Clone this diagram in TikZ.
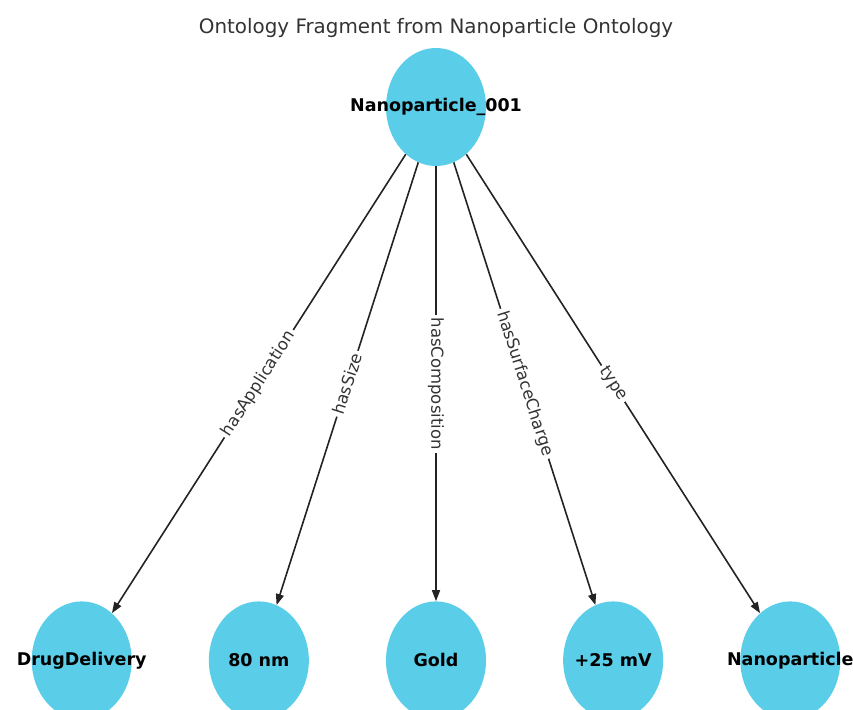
\documentclass[tikz,border=0pt]{standalone}
\usepackage{fontspec}
\setmainfont{DejaVu Sans}
\usetikzlibrary{arrows.meta, positioning, shapes.geometric}
\definecolor{nodeblue}{RGB}{90,205,232}
\definecolor{edgegray}{RGB}{35,35,35}

\begin{document}
\begin{tikzpicture}[x=1pt, y=-1pt,
        entity/.style={ellipse, fill=nodeblue, minimum width=100pt, minimum height=118pt, inner sep=0pt},
        entitytext/.style={font=\fontsize{17.5}{20}\selectfont\bfseries, text=black},
        relation/.style={draw=edgegray, line width=1.6pt, -{Triangle[length=11pt, width=8pt]}},
        rellabel/.style={midway, sloped, fill=white, inner sep=3pt, font=\fontsize{16.5}{19}\selectfont, text=black!80},
        node distance=435pt and 76.75pt
        ]
        \clip (0,0) rectangle (853,709);

        % Title
        \node (title) at (436,28) {\fontsize{19.9}{23}\selectfont\color{black!80}Ontology Fragment from Nanoparticle Ontology};

        % Nodes
        \node (np001) [entity, label={[entitytext]center:Nanoparticle\_001}] at (436,107) {};
        \node (gold) [entity, below=of np001, label={[entitytext]center:Gold}] {};
        \node (size) [entity, left=of gold, label={[entitytext]center:80 nm}] {};
        \node (drug) [entity, left=of size, label={[entitytext]center:DrugDelivery}] {};
        \node (charge) [entity, right=of gold, label={[entitytext]center:+25 mV}] {};
        \node (nptype) [entity, right=of charge, label={[entitytext]center:Nanoparticle}] {};

        % Arrows with labels
        \draw [relation] (np001) -- node[rellabel] {hasApplication} (drug);
        \draw [relation] (np001) -- node[rellabel] {hasSize} (size);
        \draw [relation] (np001) -- node[rellabel] {hasComposition} (gold);
        \draw [relation] (np001) -- node[rellabel] {hasSurfaceCharge} (charge);
        \draw [relation] (np001) -- node[rellabel] {type} (nptype);

    \end{tikzpicture}
\end{document}
